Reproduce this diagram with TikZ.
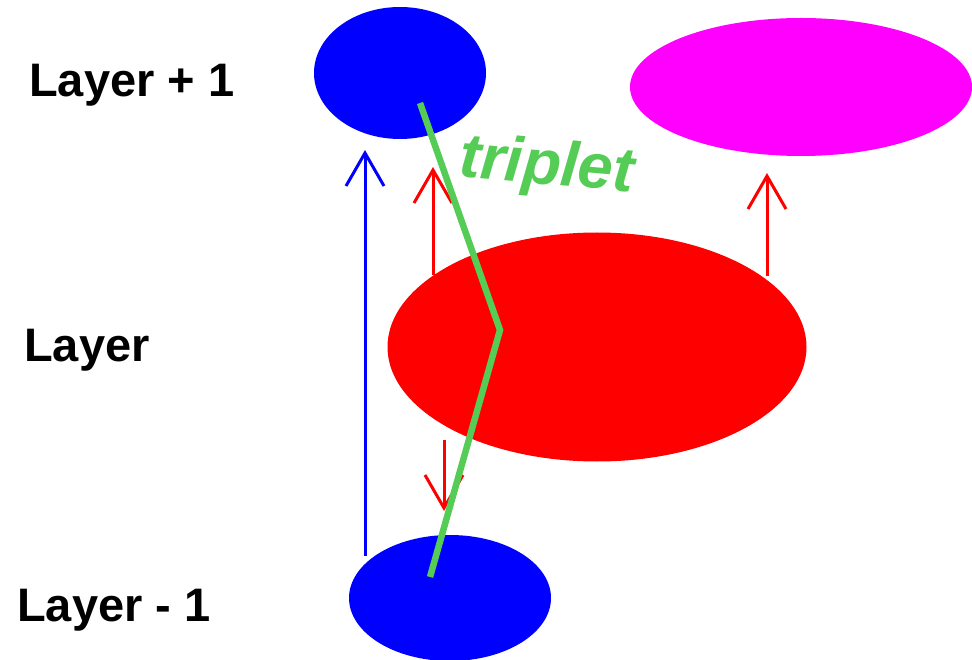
\documentclass[tikz,border=0pt]{standalone}
\usepackage{fontspec}
\setmainfont{Liberation Sans}
\usetikzlibrary{shapes.geometric,arrows.meta}
\definecolor{tripgreen}{RGB}{85,204,85}
\definecolor{pblue}{RGB}{0,0,255}
\definecolor{pred}{RGB}{255,0,0}
\definecolor{pmag}{RGB}{255,0,255}
\tikzset{
  blob/.style={ellipse, inner sep=0pt, draw=none},
  layerlabel/.style={font=\fontsize{47}{50}\selectfont\bfseries, anchor=west, inner sep=0pt},
  uparrow/.style={line width=3pt, -{Straight Barb[length=33pt,width=38pt,line width=3pt]}},
  tripline/.style={tripgreen, line width=6.5pt, line join=miter}
}
\begin{document}
\begin{tikzpicture}[x=1pt,y=-1pt]
\useasboundingbox (0,0) rectangle (972,660);
% ellipses
\node[blob, fill=pblue, minimum width=172pt, minimum height=132pt] (top) at (400,73) {};
\node[blob, fill=pmag, minimum width=342pt, minimum height=138pt] (mag) at (801,87) {};
\node[blob, fill=pred, minimum width=419pt, minimum height=229pt] (mid) at (597,347) {};
\node[blob, fill=pblue, minimum width=202pt, minimum height=126pt] (bot) at (450,598) {};
% labels
\node[layerlabel] (l1) at (29,85) {Layer + 1};
\node[layerlabel] (l0) at (24,350) {Layer};
\node[layerlabel] (lm) at (17,610) {Layer - 1};
% arrow coordinates
\coordinate (bs) at (365,556);
\coordinate (bt) at (365,150);
\coordinate (rs) at (433,275);
\coordinate (rt) at (433,167);
\coordinate (ds) at (444,440);
\coordinate (dt) at (444,511);
\coordinate (ms) at (767,276);
\coordinate (mt) at (767,173);
\draw[uparrow, pblue] (bs) -- (bt);
\draw[uparrow, pred] (rs) -- (rt);
\draw[uparrow, pred] (ds) -- (dt);
\draw[uparrow, pred] (ms) -- (mt);
% triplet
\coordinate (t1) at (420,103);
\coordinate (t2) at (500,330);
\coordinate (t3) at (430,577);
\draw[tripline] (t1) -- (t2) -- (t3);
\node[font=\fontsize{63}{66}\selectfont\bfseries\itshape, text=tripgreen, rotate=-5, inner sep=0pt] (trip) at (547,168) {triplet};
\end{tikzpicture}
\end{document}
